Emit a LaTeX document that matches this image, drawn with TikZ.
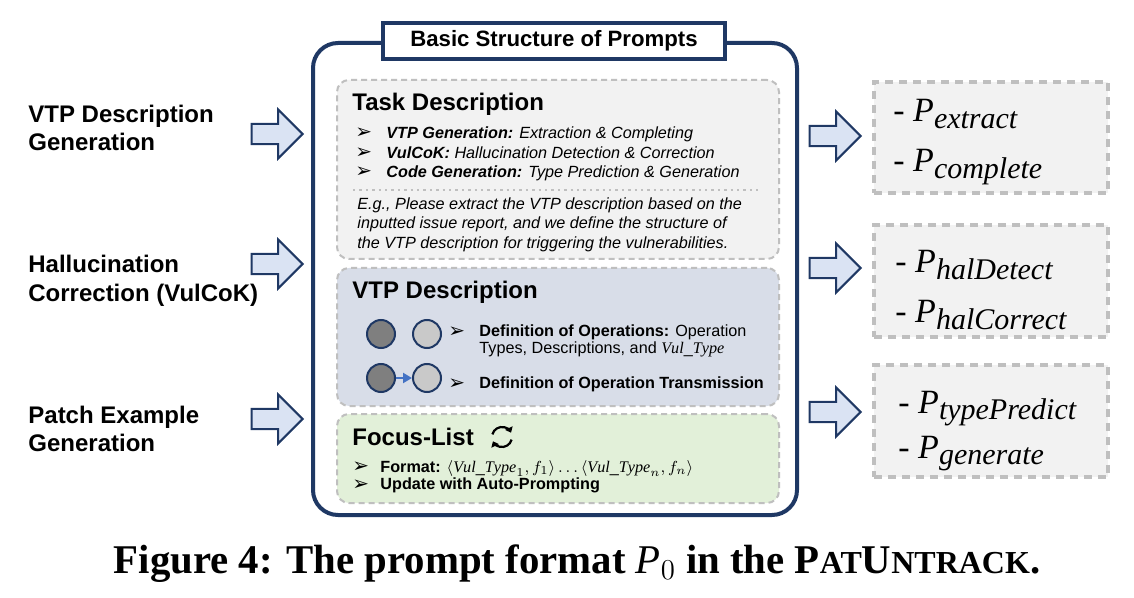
\documentclass[tikz,border=0pt]{standalone}
\usepackage{fontspec}
\setmainfont{Liberation Serif}
\setsansfont{Liberation Sans}
\newfontfamily\symfont{DejaVu Sans}
\usepackage{tikz}
\usetikzlibrary{shapes.arrows, arrows.meta, positioning, calc}

\definecolor{navy}{HTML}{1F3864}
\definecolor{dashgray}{HTML}{BFBFBF}
\definecolor{taskgray}{HTML}{F2F2F2}
\definecolor{vtpblue}{HTML}{D8DDE8}
\definecolor{focusgreen}{HTML}{E2F0D9}
\definecolor{arrowblue}{HTML}{DAE3F3}
\definecolor{opdark}{HTML}{7F7F7F}
\definecolor{oplight}{HTML}{C9C9C9}
\definecolor{flowblue}{HTML}{4472C4}

\newcommand{\resP}[1]{$\mathit{P}$\raisebox{-3.2pt}{\fontsize{15}{16}\selectfont\itshape #1}}

\tikzset{
  %% Outer frame of the prompt
  framebox/.style={
    rectangle, rounded corners=12.5pt,
    draw=navy, line width=2pt, fill=white,
    inner sep=0pt, outer sep=0pt
  },
  titlebox/.style={
    rectangle, draw=navy, line width=2pt, fill=white,
    minimum width=171pt, minimum height=18pt, inner sep=0pt,
    font=\sffamily\bfseries\fontsize{11.1}{13}\selectfont
  },
  %% Dashed part of the prompt
  partbox/.style={
    rectangle, rounded corners=6pt,
    draw=dashgray, dash pattern=on 3pt off 2pt, line width=1pt,
    fill=#1, minimum width=221pt, inner sep=0pt, outer sep=0pt
  },
  partbox/.default=taskgray,
  %% Dashed result box
  resbox/.style={
    rectangle, draw=dashgray, dash pattern=on 4pt off 3pt,
    line width=2pt, fill=taskgray,
    minimum width=117pt, minimum height=56pt,
    inner sep=0pt, outer sep=0pt
  },
  %% Block arrow
  barr/.style={
    single arrow, draw=navy, fill=arrowblue, line width=1pt,
    minimum width=22.5pt, minimum height=25.5pt,
    inner sep=4.6pt
  },
  opnode/.style={
    circle, draw=navy, line width=1pt, fill=#1,
    minimum size=14pt, inner sep=0pt
  },
  flow/.style={-{Triangle[length=4.5pt,width=5pt]},
               draw=flowblue, line width=1.2pt},
  parthead/.style={anchor=base west, inner sep=0pt,
    font=\sffamily\bfseries\fontsize{12}{14}\selectfont},
  sidelabel/.style={anchor=base west, inner sep=0pt,
    font=\sffamily\bfseries\fontsize{12}{14}\selectfont},
  itemtxt/.style={anchor=base west, inner sep=0pt,
    font=\sffamily\fontsize{8.1}{10}\selectfont},
  bul/.style={anchor=base west, inner sep=0pt,
    font=\symfont\fontsize{10}{10}\selectfont},
  restxt/.style={anchor=base west, inner sep=0pt,
    font=\rmfamily\fontsize{17}{20}\selectfont},
}

\begin{document}
\begin{tikzpicture}[x=0.5pt, y=-0.5pt]
  \useasboundingbox (0,0) rectangle (1134,598);

  %% Frame and title
  \node[framebox, anchor=north west, minimum width=242pt,
        minimum height=236pt] (frame) at (313,43) {};
  \node[titlebox] (title) at (554,41) {Basic Structure of Prompts};

  %% Parts of the prompt
  \node[partbox=taskgray, anchor=north west, minimum height=89.5pt]
       (task) at (337,80) {};
  \node[partbox=vtpblue, minimum height=69pt, below=4.5pt of task] (vtp) {};
  \node[partbox=focusgreen, minimum height=44.5pt, below=4pt of vtp] (focus) {};

  %% Task Description
  \node[parthead] (taskhead) at (352,111) {Task Description};
  \foreach \yy/\lab/\desc [count=\n] in {
      139/VTP Generation:/Extraction \& Completing,
      159/VulCoK:/Hallucination Detection \& Correction,
      178/Code Generation:/Type Prediction \& Generation}{
    \node[bul] (tb\n) at (355,\yy) {➢};
    \node[itemtxt] (ti\n) at (386,\yy) {\textbf{\textit{\lab}} \textit{\desc}};
  }
  \draw[dashgray, line width=1.2pt, dotted] (353,190) -- (758,190);
  \foreach \yy/\txt [count=\n] in {
      210/{E.g., Please extract the VTP description based on the},
      229/{inputted issue report, and we define the structure of},
      249/{the VTP description for triggering the vulnerabilities.}}
    \node[itemtxt] (eg\n) at (357,\yy) {\textit{\txt}};

  %% VTP Description
  \node[parthead] (vtphead) at (352,299) {VTP Description};
  \node[opnode=opdark]  (opa) at (381,334) {};
  \node[opnode=oplight] (opb) at (427,334) {};
  \node[opnode=opdark]  (opc) at (381,378) {};
  \node[opnode=oplight] (opd) at (427,378) {};
  \draw[flow] (opc) -- (opd);
  \node[bul] (vb1) at (448,337) {➢};
  \node[bul] (vb2) at (448,389) {➢};
  \node[itemtxt] (vi1) at (479,336) {\textbf{Definition of Operations:} Operation};
  \node[itemtxt] (vi2) at (479,354) {Types, Descriptions, and $\mathit{Vul\_Type}$};
  \node[itemtxt] (vi3) at (479,388) {\textbf{Definition of Operation Transmission}};

  %% Focus-List
  \node[parthead] (focushead) at (352,445) {Focus-List};
  \begin{scope}[shift={(502,437)}, x=1pt, y=1pt]
    \draw[line width=1.1pt, -{Triangle[length=2.6pt,width=4pt]}]
      (165:5) arc (165:25:5);
    \draw[line width=1.1pt, -{Triangle[length=2.6pt,width=4pt]}]
      (345:5) arc (345:205:5);
  \end{scope}
  \node[bul] (fb1) at (352,472) {➢};
  \node[bul] (fb2) at (352,490) {➢};
  \node[itemtxt] (fi1) at (380,472)
       {\textbf{Format:} $\langle \mathit{Vul\_Type}_1, f_1\rangle \ldots
        \langle \mathit{Vul\_Type}_n, f_n\rangle$};
  \node[itemtxt] (fi2) at (380,489) {\textbf{Update with Auto-Prompting}};

  %% Left labels
  \foreach \yy/\txt [count=\n] in {123/VTP Description, 151/Generation,
      273/Hallucination, 302/Correction (VulCoK),
      423/Patch Example, 451/Generation}
    \node[sidelabel] (lab\n) at (28,\yy) {\txt};

  %% Block arrows
  \foreach \yy [count=\n] in {134,264,419}
    \node[barr] (in\n) at (272,\yy) {};
  \foreach \yy [count=\n] in {136,268,412}
    \node[barr] (out\n) at (830,\yy) {};

  %% Result boxes
  \node[resbox, anchor=north west, minimum height=55.5pt] (res1) at (874,82) {};
  \node[resbox, below=16pt of res1] (res2) {};
  \node[resbox, below=14pt of res2] (res3) {};

  \node[restxt] (r1) at (893,122) {- \resP{extract}};
  \node[restxt] (r2) at (893,172) {- \resP{complete}};
  \node[restxt] (r3) at (895,273) {- \resP{halDetect}};
  \node[restxt] (r4) at (895,323) {- \resP{halCorrect}};
  \node[restxt] (r5) at (898,413) {- \resP{typePredict}};
  \node[restxt] (r6) at (898,458) {- \resP{generate}};

  %% Caption
  \node[anchor=base, inner sep=0pt,
        font=\rmfamily\bfseries\fontsize{20.4}{24}\selectfont] (caption)
       at (577,573)
       {Figure 4: The prompt format $\mathit{P}_0$ in the
        P{\fontsize{16}{18}\selectfont AT}U{\fontsize{16}{18}\selectfont NTRACK}.};

\end{tikzpicture}
\end{document}
